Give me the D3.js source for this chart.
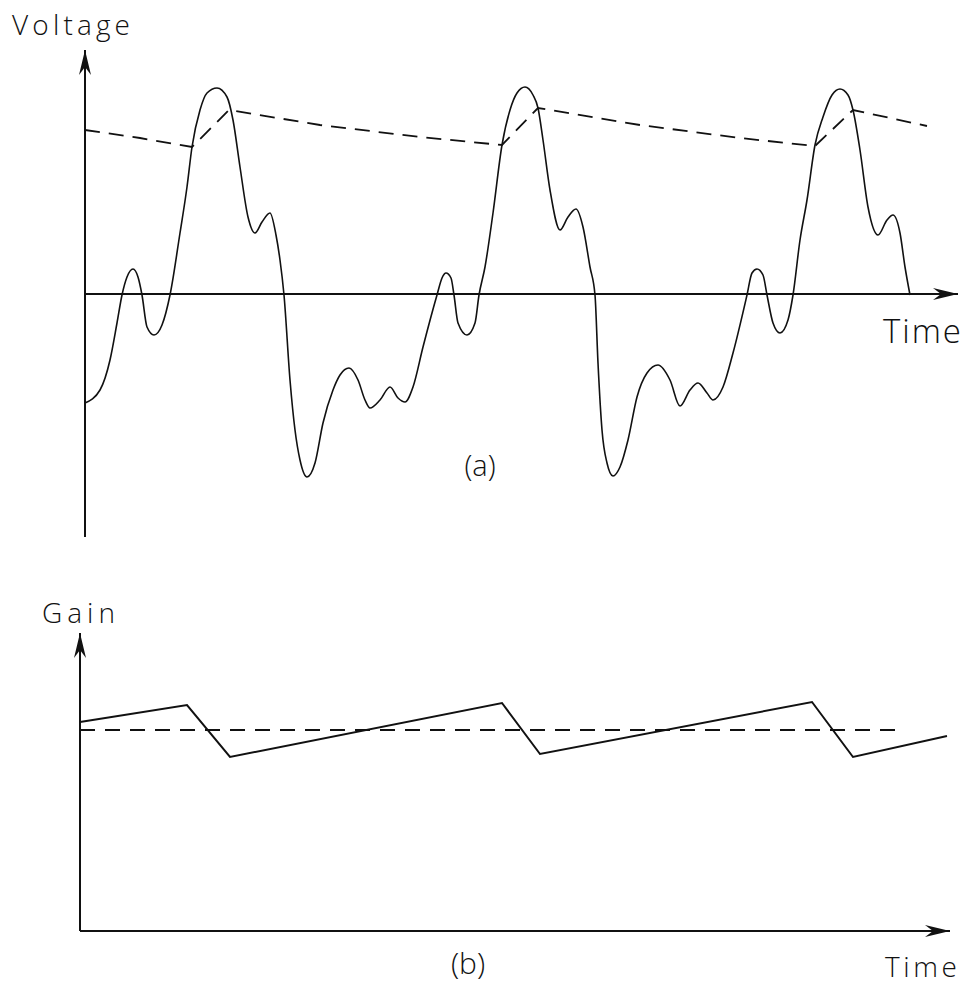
<!DOCTYPE html>
<html>
<head>
<meta charset="utf-8">
<script src="https://cdn.jsdelivr.net/npm/d3@7"></script>
<style>
  body { margin: 0; background: #fff; }
  svg { display: block; }
  text { font-family: "Open Sans", "DejaVu Sans", sans-serif; font-weight: 300; fill: #111; }
</style>
</head>
<body>
<div id="chart"></div>
<script>
// (a) input voltage, [time, volts]
const voltagePoints = [
  [0, -1.09], [1.5, -0.96], [2.5, -0.66], [3.2, -0.29], [3.7, -0.01], [4.2, 0.17],
  [4.8, 0.25], [5.3, 0.17], [5.7, -0.01], [6.2, -0.33], [6.9, -0.41], [7.7, -0.31],
  [8.5, -0.01], [9.5, 0.61], [10.2, 1.07], [10.7, 1.47], [11.5, 1.84], [12.2, 2.01],
  [13.2, 2.06], [14.2, 1.97], [14.8, 1.74], [15.5, 1.27], [16.3, 0.77], [17.0, 0.61],
  [17.7, 0.72], [18.5, 0.81], [19.1, 0.59], [19.5, 0.34], [19.9, -0.01], [20.5, -0.86],
  [21.0, -1.36], [21.5, -1.66], [22.2, -1.83], [23.0, -1.69], [23.8, -1.29], [24.8, -0.96],
  [25.5, -0.81], [26.4, -0.74], [27.3, -0.86], [28.0, -1.06], [28.5, -1.14], [29.5, -1.06],
  [30.5, -0.93], [31.3, -1.04], [32.0, -1.08], [32.8, -0.93], [33.8, -0.53], [35.2, -0.01],
  // second cycle
  [35.7, 0.16], [36.1, 0.21], [36.6, 0.16], [36.9, -0.01], [37.3, -0.29], [38.2, -0.41],
  [39.0, -0.29], [39.4, -0.01], [40.0, 0.27], [40.8, 0.81], [41.7, 1.49], [42.5, 1.84],
  [43.2, 2.01], [44.0, 2.07], [44.8, 1.99], [45.3, 1.86], [45.8, 1.54], [46.5, 1.04],
  [47.5, 0.64], [48.3, 0.77], [49.1, 0.85], [49.8, 0.67], [50.5, 0.27], [51.0, -0.01],
  [51.3, -0.69], [51.7, -1.36], [52.2, -1.69], [52.8, -1.82], [53.5, -1.73], [54.3, -1.46],
  [55.2, -1.03], [56.2, -0.79], [57.3, -0.71], [58.5, -0.86], [59.5, -1.12], [60.5, -0.96],
  [61.3, -0.89], [62.2, -0.99], [62.8, -1.06], [63.8, -0.93], [64.8, -0.59], [66.2, -0.01],
  // third cycle
  [66.7, 0.21], [67.2, 0.25], [67.8, 0.19], [68.2, -0.01], [68.8, -0.29], [69.5, -0.39],
  [70.3, -0.26], [70.8, -0.01], [71.5, 0.54], [72.2, 0.94], [73.0, 1.49], [73.8, 1.77],
  [74.7, 1.99], [75.5, 2.05], [76.3, 1.99], [76.8, 1.84], [77.5, 1.44], [78.3, 0.87],
  [79.3, 0.59], [80.2, 0.74], [80.8, 0.79], [81.5, 0.61], [82.0, 0.27], [82.5, -0.01]
];

// (a) detected envelope (dashed)
const envelopePoints = [
  [0, 1.64], [5.5, 1.56], [10.7, 1.47], [14.4, 1.84], [23.5, 1.69], [33.5, 1.57],
  [41.7, 1.49], [45.3, 1.86], [55.5, 1.69], [65.5, 1.56], [73.0, 1.48], [76.8, 1.84],
  [84.2, 1.68]
];

// (b) gain, [time, gain]
const gainPoints = [
  [0, 2.09], [10.7, 2.26], [15.0, 1.74], [42.2, 2.28], [46.0, 1.77],
  [73.2, 2.29], [77.3, 1.74], [86.7, 1.95]
];
const gainReference = [[0, 2.01], [82, 2.01]];

const labels = { voltage: 'Voltage', gain: 'Gain', time: 'Time', a: '(a)', b: '(b)' };

const width = 965;
const height = 986;

const svg = d3
  .select('#chart')
  .append('svg')
  .attr('width', width)
  .attr('height', height)
  .attr('viewBox', `0 0 ${width} ${height}`);

svg.append('rect').attr('width', width).attr('height', height).attr('fill', '#fff');

// small filled arrow head pointing along +x, rotated into place
function arrowHead(g, x, y, angle) {
  g.append('path')
    .attr('d', 'M0,0 L-25,-6 L-17,0 L-25,6 Z')
    .attr('transform', `translate(${x},${y}) rotate(${angle})`)
    .attr('fill', '#111');
}

function createPanelA() {
  const g = svg.append('g').attr('class', 'panel-a');

  const x = d3.scaleLinear().domain([0, 87.3]).range([85, 958]);
  const y = d3.scaleLinear().domain([-2.43, 2.44]).range([537, 50]);

  // axes
  g.append('line')
    .attr('x1', x(0)).attr('x2', x(0))
    .attr('y1', y(-2.43)).attr('y2', y(2.44))
    .attr('stroke', '#111').attr('stroke-width', 2);
  arrowHead(g, x(0), y(2.44), -90);

  g.append('line')
    .attr('x1', x(0)).attr('x2', x(87.3))
    .attr('y1', y(0)).attr('y2', y(0))
    .attr('stroke', '#111').attr('stroke-width', 2);
  arrowHead(g, x(87.3), y(0), 0);

  // envelope
  const envLine = d3.line().x((d) => x(d[0])).y((d) => y(d[1]));
  g.append('path')
    .datum(envelopePoints)
    .attr('d', envLine)
    .attr('fill', 'none')
    .attr('stroke', '#111')
    .attr('stroke-width', 1.8)
    .attr('stroke-dasharray', '15,9');

  // waveform
  const wave = d3
    .line()
    .x((d) => x(d[0]))
    .y((d) => y(d[1]))
    .curve(d3.curveMonotoneX);
  g.append('path')
    .datum(voltagePoints)
    .attr('d', wave)
    .attr('fill', 'none')
    .attr('stroke', '#111')
    .attr('stroke-width', 1.6);

  // labels
  g.append('text').attr('x', 12).attr('y', 35)
    .attr('font-size', 28).attr('textLength', 118).attr('lengthAdjust', 'spacing')
    .text(labels.voltage);
  g.append('text').attr('x', 883).attr('y', 343)
    .attr('font-size', 33).attr('textLength', 78).attr('lengthAdjust', 'spacing')
    .text(labels.time);
  g.append('text').attr('x', 480).attr('y', 476)
    .attr('font-size', 29).attr('text-anchor', 'middle')
    .text(labels.a);
}

function createPanelB() {
  const g = svg.append('g').attr('class', 'panel-b');

  const x = d3.scaleLinear().domain([0, 87]).range([80, 950]);
  const y = d3.scaleLinear().domain([0, 2.98]).range([931, 633]);

  g.append('line')
    .attr('x1', x(0)).attr('x2', x(0))
    .attr('y1', y(0)).attr('y2', y(2.98))
    .attr('stroke', '#111').attr('stroke-width', 2);
  arrowHead(g, x(0), y(2.98), -90);

  g.append('line')
    .attr('x1', x(0)).attr('x2', x(87))
    .attr('y1', y(0)).attr('y2', y(0))
    .attr('stroke', '#111').attr('stroke-width', 2);
  arrowHead(g, x(87), y(0), 0);

  const line = d3.line().x((d) => x(d[0])).y((d) => y(d[1]));

  g.append('path')
    .datum(gainReference)
    .attr('d', line)
    .attr('fill', 'none')
    .attr('stroke', '#111')
    .attr('stroke-width', 1.8)
    .attr('stroke-dasharray', '15,10');

  g.append('path')
    .datum(gainPoints)
    .attr('d', line)
    .attr('fill', 'none')
    .attr('stroke', '#111')
    .attr('stroke-width', 2);

  g.append('text').attr('x', 42).attr('y', 623)
    .attr('font-size', 28).attr('textLength', 73).attr('lengthAdjust', 'spacing')
    .text(labels.gain);
  g.append('text').attr('x', 885).attr('y', 977)
    .attr('font-size', 28).attr('textLength', 72).attr('lengthAdjust', 'spacing')
    .text(labels.time);
  g.append('text').attr('x', 468).attr('y', 974)
    .attr('font-size', 30).attr('text-anchor', 'middle')
    .text(labels.b);
}

createPanelA();
createPanelB();
</script>
</body>
</html>
